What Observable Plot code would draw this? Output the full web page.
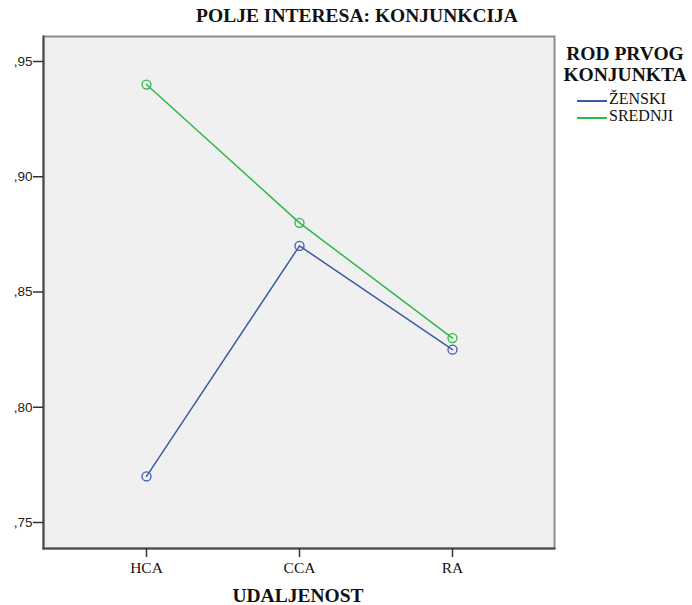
<!DOCTYPE html>
<html>
<head>
<meta charset="utf-8">
<script src="https://cdn.jsdelivr.net/npm/d3@7"></script>
<script src="https://cdn.jsdelivr.net/npm/@observablehq/plot@0.6"></script>
<style>
  html, body { margin: 0; padding: 0; background: #fff; }
  #wrap { position: relative; width: 692px; height: 605px; overflow: hidden; }
  #wrap svg { position: absolute; left: 0; top: 0; }
  .t { position: absolute; font-family: "Liberation Serif", "Times New Roman", serif; color: #111; white-space: nowrap; line-height: 1; }
  .b { font-weight: bold; }
  .sw { position: absolute; height: 2px; width: 30px; }
</style>
</head>
<body>
<div id="wrap"></div>
<script>
const categories = ["HCA", "CCA", "RA"];
const seriesNames = ["ŽENSKI", "SREDNJI"];
const zenski = [0.770, 0.870, 0.825];
const srednji = [0.940, 0.880, 0.830];
const yTicks = [0.75, 0.80, 0.85, 0.90, 0.95];
const colors = ["#3E58AC", "#2EB848"];
const titleText = "POLJE INTERESA: KONJUNKCIJA";
const xTitle = "UDALJENOST";
const legendTitle = ["ROD PRVOG", "KONJUNKTA"];

const rows = [];
[zenski, srednji].forEach((vals, s) => {
  vals.forEach((v, i) => rows.push({cat: categories[i], series: seriesNames[s], value: v}));
});

const fmt = d => "," + d3.format(".2f")(d).split(".")[1];

const chart = Plot.plot({
  width: 692,
  height: 605,
  marginLeft: 43,
  marginRight: 138,
  marginTop: 36,
  marginBottom: 57,
  style: {background: "transparent", overflow: "visible"},
  x: {type: "point", domain: categories, padding: 2/3, label: null},
  y: {domain: [0.73872, 0.96085], label: null},
  color: {domain: seriesNames, range: colors},
  marks: [
    Plot.frame({fill: "#f0f0f0", stroke: "#8c8c8c", strokeWidth: 2}),
    Plot.frame({anchor: "left", stroke: "#4a4a4a", strokeWidth: 2}),
    Plot.frame({anchor: "bottom", stroke: "#4a4a4a", strokeWidth: 2}),
    Plot.axisY({ticks: yTicks, tickFormat: fmt, tickSize: 10, tickPadding: 1, stroke: "#333", strokeWidth: 1.5,
      fontSize: 13.5, fontFamily: "Liberation Sans, Arial, sans-serif", fill: "#222", label: null}),
    Plot.axisX({tickSize: 9, tickPadding: 4, stroke: "#333", strokeWidth: 1.5,
      fontSize: 15.5, fontFamily: "Liberation Serif, Times New Roman, serif", fill: "#111", label: null}),
    Plot.line(rows, {x: "cat", y: "value", z: "series", stroke: "series", strokeWidth: 1.5}),
    Plot.dot(rows, {x: "cat", y: "value", stroke: "series", r: 4.5, strokeWidth: 1.3, fill: "none"})
  ]
});
const wrap = document.getElementById("wrap");
wrap.appendChild(chart);

function addText(txt, x, y, size, bold, anchor) {
  const d = document.createElement("div");
  d.className = "t" + (bold ? " b" : "");
  d.textContent = txt;
  d.style.fontSize = size + "px";
  d.style.top = y + "px";
  wrap.appendChild(d);
  const w = d.getBoundingClientRect().width;
  d.style.left = (anchor === "middle" ? x - w / 2 : x) + "px";
  return d;
}
addText(titleText, 357, 6, 19.5, true, "middle");
addText(xTitle, 298, 586, 19.5, true, "middle");
addText(legendTitle[0], 625, 44, 19.5, true, "middle");
addText(legendTitle[1], 625, 65, 19.5, true, "middle");
seriesNames.forEach((name, i) => {
  const y = 101 + i * 17;
  const sw = document.createElement("div");
  sw.className = "sw";
  sw.style.left = "577px";
  sw.style.top = (y - 1) + "px";
  sw.style.background = colors[i];
  wrap.appendChild(sw);
  addText(name, 609, y - 10, 16, false, "start");
});
</script>
</body>
</html>
